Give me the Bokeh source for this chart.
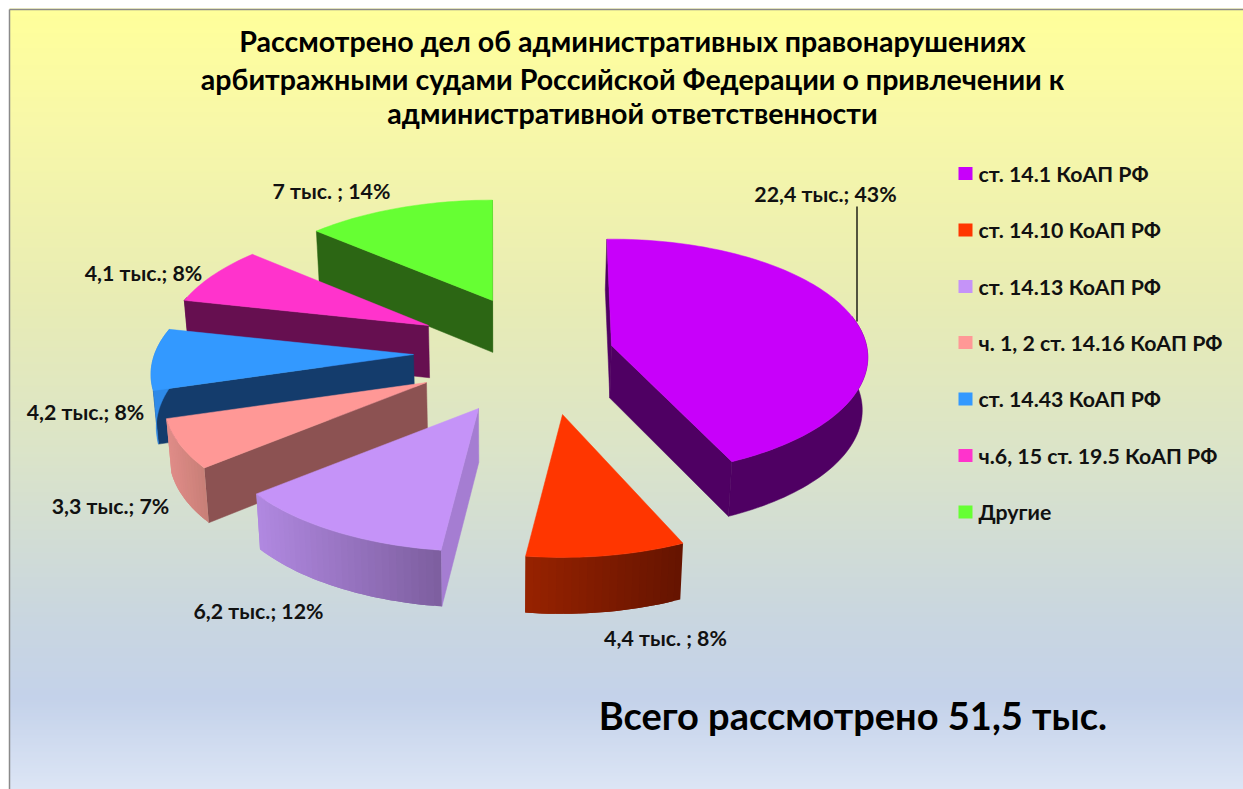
from bokeh.plotting import figure
from bokeh.embed import file_html
from bokeh.resources import INLINE
from bokeh.core.properties import value
import math

# ---------- data ----------
categories = ["ст. 14.1 КоАП РФ", "ст. 14.10 КоАП РФ", "ст. 14.13 КоАП РФ",
              "ч. 1, 2 ст. 14.16 КоАП РФ", "ст. 14.43 КоАП РФ",
              "ч.6, 15 ст. 19.5 КоАП РФ", "Другие"]
cases_thousands = [22.4, 4.4, 6.2, 3.3, 4.2, 4.1, 7.0]
slice_labels = ["22,4 тыс.; 43%", "4,4 тыс. ; 8%", "6,2 тыс.; 12%", "3,3 тыс.; 7%",
                "4,2 тыс.; 8%", "4,1 тыс.; 8%", "7 тыс. ; 14%"]
title_lines = ["Рассмотрено дел об административных правонарушениях",
               "арбитражными судами Российской Федерации о привлечении к",
               "административной ответственности"]
total_label = "Всего рассмотрено  51,5 тыс."

# ---------- style ----------
FONT = "Lato"
top_colors = ["#C800FA", "#FF3600", "#C593F8", "#FF9896", "#3399FF", "#FF33CC", "#66FF33"]
rim_left = ["#4F0063", "#962200", "#B088E0", "#E08C88", "#2E8AE8", "#660F50", "#2C6614"]
rim_right = ["#4F0063", "#661400", "#7E5FA0", "#C98078", "#2E8AE8", "#660F50", "#2C6614"]
face_colors = ["#4F0063", "#661400", "#A57DD2", "#8C5252", "#143C6C", "#660F50", "#2C6614"]
CX, CY = 510, 365
# how far every slice is pulled out of the pie, in pixels
explode = [(101, -20), (52, 49), (-32, 43), (-84, 17), (-97, -11), (-82, -40), (-18, -65)]
# each slice's drawn half-axes and perspective
RADII = [255.0, 255.0, 259.0, 259.0, 259.0, 259.0, 259.0]
TILT = [117.0, 119.7, 119.7, 119.7, 119.7, 119.7, 116.7]
PERSP = [0.10, 0.1625, 0.1625, 0.1625, 0.1625, 0.1625, 0.1625]
W, H = 1243, 789


def project(theta, i):
    s = 1.0 / (1.0 + PERSP[i] * math.cos(theta))
    return RADII[i] * math.sin(theta) * s, -TILT[i] * math.cos(theta) * s


def drop(pt):
    depth = 50 + 0.018 * (pt[1] - 200)
    return (500 + (pt[0] - 500) * 0.985, pt[1] + depth)


def mix(a, b, t):
    ca = [int(a[i:i + 2], 16) for i in (1, 3, 5)]
    cb = [int(b[i:i + 2], 16) for i in (1, 3, 5)]
    return "#%02x%02x%02x" % tuple(round(x + (y - x) * t) for x, y in zip(ca, cb))


def area(poly):
    return sum(poly[i][0] * poly[(i + 1) % len(poly)][1] - poly[(i + 1) % len(poly)][0] * poly[i][1]
               for i in range(len(poly))) / 2


p = figure(width=W, height=H, x_range=(0, W), y_range=(H, 0), toolbar_location=None,
           output_backend="svg", min_border=0, outline_line_color=None,
           background_fill_color="white", border_fill_color="white")
p.axis.visible = False
p.grid.visible = False

# ---------- background gradient ----------
stops = [(9, "#FFFF9A"), (120, "#F8F8A8"), (300, "#E8ECB4"), (450, "#DBE4C8"),
         (620, "#C9D6E0"), (700, "#C4D2EA"), (789, "#DCE5F5")]
ys, cs = [], []
for y in range(10, H + 1, 2):
    for (y0, c0), (y1, c1) in zip(stops, stops[1:]):
        if y0 <= y <= y1:
            ys.append(y)
            cs.append(mix(c0, c1, (y - y0) / (y1 - y0)))
            break
p.quad(left=9, right=W, top=[y - 2 for y in ys], bottom=[y + 0.5 for y in ys], fill_color=cs, line_color=None)
p.segment([9, 9], [9, 9], [9, W], [H, 9], line_color="#8A8A8A", line_width=1.5)

# ---------- slices ----------
total = sum(cases_thousands)
angles = [0.0]
for v in cases_thousands:
    angles.append(angles[-1] + v / total * 2 * math.pi)
starts = list(angles[:-1])
ends = list(angles[1:])
starts[0] = -0.02   # the first slice's far edge leans slightly left, as drawn
ends[0] -= 0.03     # and its near edge falls a little short of the next slice's angle
order = [6, 5, 4, 3, 2, 0, 1]

for i in order:
    ax, ay = CX + explode[i][0], CY + explode[i][1]
    a0, a1 = starts[i], ends[i]
    n = max(8, int((a1 - a0) * 40))
    ts = [a0 + (a1 - a0) * k / n for k in range(n + 1)]
    rim = [(ax + project(t, i)[0], ay + project(t, i)[1]) for t in ts]
    apex = (ax, ay)

    # radial walls that face the viewer
    for which, pt in enumerate((rim[0], rim[-1])):
        quad = [apex, pt, drop(pt), drop(apex)]
        visible = area(quad) < 0 if which == 0 else area(quad) > 0
        if visible:
            xs, yy = zip(*quad)
            p.patch(list(xs), list(yy), fill_color=face_colors[i], line_color=face_colors[i], line_width=0.5)

    # curved wall: overlapping strips, painted one over the other so no seam shows
    front = [k for k in range(n) if math.cos((ts[k] + ts[k + 1]) / 2) <= 0.25]
    if front:
        xmin, xmax = min(rim[k][0] for k in front), max(rim[k + 1][0] for k in front)
        xmin, xmax = min(xmin, rim[front[-1]][0]), max(xmax, rim[front[0]][0])
        if rim_left[i] == rim_right[i]:
            chain = [rim[k] for k in front] + [rim[front[-1] + 1]]
            outline = chain + [drop(c) for c in reversed(chain)]
            p.patch([c[0] for c in outline], [c[1] for c in outline], fill_color=rim_left[i],
                    line_color=rim_left[i], line_width=0.5)
        else:
            # paint so that each strip covers the overlap of the one before
            for k in front:
                last = min(k + 2, n)
                chain = rim[k:last + 1]
                outline = chain + [drop(c) for c in reversed(chain)]
                frac = (rim[k][0] - xmin) / max(1.0, xmax - xmin)
                c = mix(rim_left[i], rim_right[i], max(0.0, min(1.0, frac)))
                p.patch([q[0] for q in outline], [q[1] for q in outline], fill_color=c, line_color=None)

    # top
    xs = [apex[0]] + [c[0] for c in rim]
    yy = [apex[1]] + [c[1] for c in rim]
    p.patch(xs, yy, fill_color=top_colors[i], line_color=top_colors[i], line_width=0.5)

# ---------- leader line ----------
p.line([856.5, 856.5], [206, 321], line_color="black", line_width=1.3)

# ---------- texts ----------
p.text([632] * 3, [40, 78, 112], text=title_lines, text_font=value(FONT), text_font_style="bold",
       text_font_size="28.6px", text_align="center", text_baseline="middle", text_color="black")

lab_x = [825, 665, 258, 110, 85, 143, 331]
lab_y = [193, 637, 610, 505, 411, 272, 190]
p.text(lab_x, lab_y, text=slice_labels, text_font=value(FONT), text_font_style="bold", text_font_size="21.3px",
       text_align="center", text_baseline="middle", text_color="#111111")

leg_y = [173, 229.5, 286, 342, 398.5, 455, 511.5]
p.quad(left=958, right=972, top=[y - 6.5 for y in leg_y], bottom=[y + 6.5 for y in leg_y],
       fill_color=top_colors, line_color=None)
p.text([978] * 7, leg_y, text=categories, text_font=value(FONT), text_font_style="bold", text_font_size="21.3px",
       text_align="left", text_baseline="middle", text_color="#111111")

p.text([857], [714], text=[total_label], text_font=value(FONT), text_font_style="bold", text_font_size="38px",
       text_align="center", text_baseline="middle", text_color="black")

open("out.html", "w").write(file_html(p, INLINE))
